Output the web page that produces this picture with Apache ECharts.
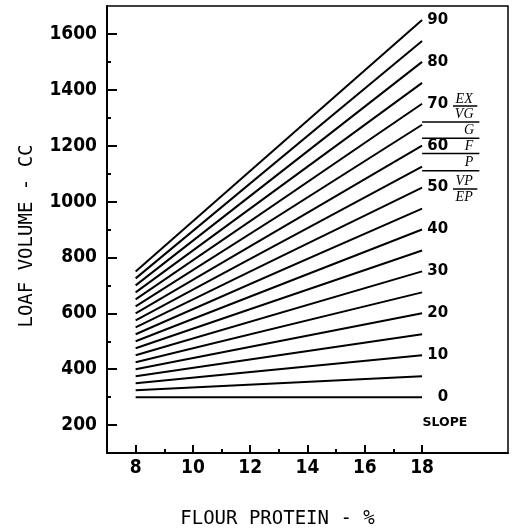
<!DOCTYPE html>
<html>
<head>
<meta charset="utf-8">
<script src="https://cdn.jsdelivr.net/npm/echarts@6/dist/echarts.min.js"></script>
<style>
html,body{margin:0;padding:0;background:#fff;}
#chart{width:516px;height:528px;}
</style>
</head>
<body>
<div id="chart"></div>
<script>
// ---- data ----
const slopes = [0, 5, 10, 15, 20, 25, 30, 35, 40, 45, 50, 55, 60, 65, 70, 75, 80, 85, 90];
const proteinStart = 8;
const proteinEnd = 18;
const volumeAt8 = [300, 325, 350, 375, 400, 425, 450, 475, 500, 525, 550, 575, 600, 625, 650, 675, 700, 725, 750];
const volumeAt18 = [300, 375, 450, 525, 600, 675, 750, 825, 900, 975, 1050, 1125, 1200, 1275, 1350, 1425, 1500, 1575, 1650];
const labelledSlopes = [0, 10, 20, 30, 40, 50, 60, 70, 80, 90];
const ratingBounds = [1285, 1227, 1172, 1110];
const ratingBoundX = [18, 20];
const fractionBars = [1342, 1045];
const fractionBarX = [19.08, 19.93];
const ratingNames = ['EX', 'VG', 'G', 'F', 'P', 'VP', 'EP'];
const ratingY = [1367, 1313, 1256, 1199, 1141, 1073, 1016];
const ratingX = [19.47, 19.47, 19.64, 19.64, 19.64, 19.47, 19.47];
const xMajorTicks = [8, 10, 12, 14, 16, 18];
const xMinorTicks = [9, 11, 13, 15, 17];
const yMajorTicks = [200, 400, 600, 800, 1000, 1200, 1400, 1600];
const yMinorTicks = [300, 500, 700, 900, 1100, 1300, 1500];
const slopeTitle = 'SLOPE';
const slopeTitlePos = [18.8, 207];

const chart = echarts.init(document.getElementById('chart'), null, {renderer: 'canvas'});
const ink = '#000';
const numFont = {fontFamily: 'DejaVu Sans Condensed', fontWeight: 'bold', fontSize: 19, color: ink};

const series = [];
slopes.forEach((s, i) => {
  series.push({
    type: 'line', name: 'slope ' + s, silent: true, symbol: 'none', animation: false,
    xAxisIndex: 0, yAxisIndex: 0,
    data: [[proteinStart, volumeAt8[i]], [proteinEnd, volumeAt18[i]]],
    lineStyle: {color: ink, width: 2}
  });
});
ratingBounds.forEach(b => {
  series.push({
    type: 'line', silent: true, symbol: 'none', animation: false,
    data: [[ratingBoundX[0], b], [ratingBoundX[1], b]],
    lineStyle: {color: ink, width: 1.5}
  });
});
fractionBars.forEach(b => {
  series.push({
    type: 'line', silent: true, symbol: 'none', animation: false,
    data: [[fractionBarX[0], b], [fractionBarX[1], b]],
    lineStyle: {color: ink, width: 1.3}
  });
});
series.push({
  type: 'scatter', silent: true, symbolSize: 0, animation: false,
  itemStyle: {opacity: 1, color: ink},
  data: labelledSlopes.map(s => {
    const i = slopes.indexOf(s);
    return {name: String(s), value: [proteinEnd, volumeAt18[i]]};
  }),
  label: {
    show: true, position: 'right', distance: 0, align: 'right', verticalAlign: 'middle',
    offset: [26, 0], formatter: p => p.name,
    fontFamily: 'DejaVu Sans', fontWeight: 'bold', fontSize: 15, color: ink
  }
});
series.push({
  type: 'scatter', silent: true, symbolSize: 0, animation: false,
  itemStyle: {opacity: 1, color: ink},
  data: ratingNames.map((n, i) => ({name: n, value: [ratingX[i], ratingY[i]]})),
  label: {
    show: true, position: 'inside', formatter: p => p.name,
    fontFamily: 'Liberation Serif', fontStyle: 'italic', fontSize: 14, color: ink
  }
});
series.push({
  type: 'scatter', silent: true, symbolSize: 0, animation: false,
  itemStyle: {opacity: 1, color: ink},
  data: [{name: slopeTitle, value: slopeTitlePos}],
  label: {
    show: true, position: 'inside', formatter: p => p.name,
    fontFamily: 'DejaVu Sans', fontWeight: 'bold', fontSize: 12.5, color: ink
  }
});

chart.setOption({
  backgroundColor: '#fff',
  animation: false,
  grid: {left: 107, right: 8, top: 6, bottom: 75, show: true, borderColor: ink, borderWidth: 1.5,
         containLabel: false, outerBoundsMode: 'none'},
  xAxis: [
    {
      type: 'value', min: 7, max: 21, interval: 1, position: 'bottom',
      name: 'FLOUR PROTEIN - %', nameLocation: 'middle', nameGap: 57,
      nameTextStyle: {fontFamily: 'DejaVu Sans Mono', fontSize: 19, color: ink, padding: [0, 60, 0, 0]},
      axisLine: {show: true, lineStyle: {color: ink, width: 2}},
      axisTick: {show: true, inside: true, length: 8, customValues: xMajorTicks, lineStyle: {color: ink, width: 2}},
      axisLabel: Object.assign({show: true, margin: 6, customValues: xMajorTicks, formatter: v => String(v)}, numFont),
      splitLine: {show: false}
    },
    {
      type: 'value', min: 7, max: 21, interval: 1, position: 'bottom',
      axisLine: {show: false},
      axisTick: {show: true, inside: true, length: 4, customValues: xMinorTicks, lineStyle: {color: ink, width: 2}},
      axisLabel: {show: false},
      splitLine: {show: false}
    }
  ],
  yAxis: [
    {
      type: 'value', min: 100, max: 1700, interval: 100, position: 'left',
      name: 'LOAF VOLUME - CC', nameLocation: 'middle', nameGap: 70, nameRotate: 90,
      nameTextStyle: {fontFamily: 'DejaVu Sans Mono', fontSize: 19, color: ink, padding: [0, 13, 0, 0]},
      axisLine: {show: true, lineStyle: {color: ink, width: 2}},
      axisTick: {show: true, inside: true, length: 10, customValues: yMajorTicks, lineStyle: {color: ink, width: 2}},
      axisLabel: Object.assign({show: true, margin: 10, customValues: yMajorTicks, formatter: v => String(v)}, numFont),
      splitLine: {show: false}
    },
    {
      type: 'value', min: 100, max: 1700, interval: 100, position: 'left',
      axisLine: {show: false},
      axisTick: {show: true, inside: true, length: 4, customValues: yMinorTicks, lineStyle: {color: ink, width: 2}},
      axisLabel: {show: false},
      splitLine: {show: false}
    }
  ],
  series: series
});
</script>
</body>
</html>
